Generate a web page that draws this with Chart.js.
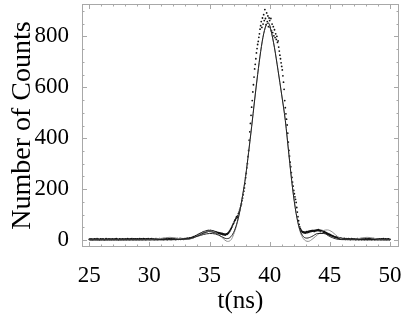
<!DOCTYPE html>
<html><head><meta charset="utf-8">
<script src="https://cdn.jsdelivr.net/npm/chart.js@4"></script>
<style>html,body{margin:0;padding:0;background:#fff}#wrap{width:415px;height:323px}</style>
</head><body><div id="wrap"><canvas id="c" width="415" height="323"></canvas></div>
<script>
// Measured counts, sampled every 0.05 ns starting at 25 ns
const tStart = 25.0;
const tStep = 0.05;
const counts = [
3,4,2,5,3,1,4,3,2,5,4,2,3,6,2,3,4,1,3,5,
2,4,3,5,2,3,1,4,6,3,2,4,3,5,2,4,3,2,5,3,
4,2,3,5,3,6,2,4,3,1,4,5,3,2,4,3,5,2,4,3,
3,5,2,4,6,3,4,2,5,3,4,6,3,2,5,4,3,5,2,4,
5,3,4,2,6,4,3,5,2,4,6,3,5,4,2,5,3,4,6,3,
4,2,5,3,6,4,3,5,2,4,3,6,4,2,5,3,4,6,3,5,
3,5,4,2,6,3,5,4,3,6,2,4,5,3,6,4,2,5,3,4,
5,3,6,4,2,5,4,6,3,5,4,7,3,5,6,4,5,3,6,5,
6,4,7,5,8,6,5,9,7,8,10,9,12,10,14,13,15,17,16,19,
18,21,20,24,22,26,25,28,27,31,29,33,30,34,32,36,33,37,35,38,
36,34,38,35,33,36,32,35,31,33,30,32,28,30,27,29,26,28,25,27,
24,26,22,24,21,23,20,22,24,23,25,28,30,34,37,42,46,51,56,62,
66,72,77,80,86,92,88,95,104,110,118,126,135,142,155,165,178,192,205,222,
245,262,284,300,328,352,392,425,458,490,522,548,582,610,640,672,690,712,735,752,
768,780,796,810,828,842,858,835,872,848,885,862,905,870,846,892,858,880,838,872,
862,835,870,822,848,815,838,802,826,795,810,788,800,776,782,758,742,726,712,696,
682,668,645,620,592,548,520,496,475,452,420,385,352,330,306,288,265,246,228,212,
195,182,170,160,148,128,110,92,76,62,52,45,40,36,33,31,32,29,31,28,
30,33,29,32,34,31,35,33,36,34,37,35,38,36,34,38,36,39,37,40,
38,41,37,39,36,38,35,37,33,35,31,33,29,30,27,28,24,25,22,23,
20,21,18,19,16,17,15,14,13,12,11,12,10,9,10,8,9,7,8,6,
7,5,6,4,7,5,3,6,4,5,3,6,4,5,2,4,6,3,5,4,
3,5,4,2,5,3,6,4,2,5,3,4,6,2,4,5,3,4,2,5,
4,3,5,2,4,6,3,5,4,2,5,3,4,6,3,2,5,4,3,5,
2,4,5,3,4,2,5,3,4,6,2,4,3,5,2,4,3,5,4,2,
3
];
// Fit curve (black)
const fitT = [25,30,32,33,33.5,34,34.5,35,35.5,36,36.4,36.7,37,37.25,37.5,37.75,38,38.25,38.5,38.75,39,39.25,39.5,39.75,39.9,40.1,40.4,40.7,41,41.3,41.6,41.9,42.2,42.5,42.8,43.1,43.5,44,44.5,45,45.5,46,50];
const fitY = [1,1,2,4,8,15,22,26,24,14,6,10,30,62,110,175,250,345,445,550,650,740,810,848,852,825,755,665,570,470,335,205,105,42,14,8,14,26,26,14,5,2,1];
// Second model curve (gray)
const altT = [25,28,30,31,31.7,32.5,33,33.5,34,34.5,35,35.5,36,36.5,36.8,37,37.25,37.5,37.75,38,38.25,38.5,38.75,39,39.25,39.5,39.75,39.9,40.1,40.4,40.7,41,41.3,41.6,41.9,42.2,42.5,42.8,43.2,43.6,44,44.5,44.8,45.2,45.7,46.2,47,47.6,48.1,48.6,49.2,50];
const altY = [1,1,2,7,11,6,3,6,18,31,36,30,12,-5,2,22,58,108,175,250,345,445,550,650,740,810,848,852,825,755,665,570,470,335,205,105,38,6,-5,6,22,38,40,32,12,3,3,8,11,8,2,1];
const xTicks = [25,30,35,40,45,50];
const yTicks = [0,200,400,600,800];

const dotPts = counts.map((v,i)=>({x: +(tStart + i*tStep).toFixed(2), y: v}));
const fitPts = fitT.map((t,i)=>({x:t, y:fitY[i]}));
const altPts = altT.map((t,i)=>({x:t, y:altY[i]}));

const serif = "'Liberation Serif','Times New Roman',serif";

const framePlugin = {
  id:'frame',
  afterDraw(chart){
    const {ctx, chartArea:a, scales:{x,y}} = chart;
    ctx.save();
    ctx.strokeStyle = '#a8a8a8';
    ctx.lineWidth = 1;
    ctx.strokeRect(Math.round(a.left)+0.5, Math.round(a.top)+0.5, Math.round(a.right-a.left)-1, Math.round(a.bottom-a.top)-1);
    ctx.beginPath();
    for (let v=25; v<=50; v+=1){
      const px = Math.round(x.getPixelForValue(v))+0.5;
      const L = (v%5===0)?5:2.5;
      ctx.moveTo(px,a.bottom); ctx.lineTo(px,a.bottom-L);
      ctx.moveTo(px,a.top); ctx.lineTo(px,a.top+L);
    }
    for (let v=0; v<=900; v+=50){
      const py = Math.round(y.getPixelForValue(v))+0.5;
      const L = (v%200===0)?5:2.5;
      ctx.moveTo(a.left,py); ctx.lineTo(a.left+L,py);
      ctx.moveTo(a.right,py); ctx.lineTo(a.right-L,py);
    }
    ctx.stroke();
    ctx.restore();
  }
};

new Chart(document.getElementById('c'), {
  type:'scatter',
  data:{datasets:[
    {label:'data', data:dotPts, showLine:false, pointRadius:0.9, pointBackgroundColor:'#111', pointBorderWidth:0, order:3},
    {label:'alt', type:'line', data:altPts, borderColor:'#8c8c8c', borderWidth:1, pointRadius:0, cubicInterpolationMode:'monotone', fill:false, order:2},
    {label:'fit', type:'line', data:fitPts, borderColor:'#222', borderWidth:1, pointRadius:0, cubicInterpolationMode:'monotone', fill:false, order:1}
  ]},
  options:{
    responsive:false, animation:false, devicePixelRatio:1,
    layout:{padding:{left:0,right:16,top:0,bottom:0}},
    plugins:{legend:{display:false}, tooltip:{enabled:false}},
    scales:{
      x:{type:'linear', min:24.4, max:50.75,
        afterBuildTicks(s){ s.ticks = xTicks.map(v=>({value:v})); },
        afterFit(s){ s.height = 76; s.paddingLeft = 0; s.paddingRight = 0; },
        grid:{display:false}, border:{display:false},
        ticks:{color:'#000', font:{family:serif, size:23}, padding:7, maxRotation:0, autoSkip:false},
        title:{display:true, text:'t(ns)', color:'#000', font:{family:serif, size:25}, padding:{top:0,bottom:7}}
      },
      y:{type:'linear', min:-27, max:927,
        afterBuildTicks(s){ s.ticks = yTicks.map(v=>({value:v})); },
        afterFit(s){ s.width = 82; s.paddingTop = 0; s.paddingBottom = 0; },
        grid:{display:false}, border:{display:false},
        ticks:{color:'#000', font:{family:serif, size:23}, padding:5},
        title:{display:true, text:'Number of Counts', color:'#000', font:{family:serif, size:28}, padding:{top:6,bottom:0}}
      }
    }
  },
  plugins:[framePlugin]
});
</script></body></html>
